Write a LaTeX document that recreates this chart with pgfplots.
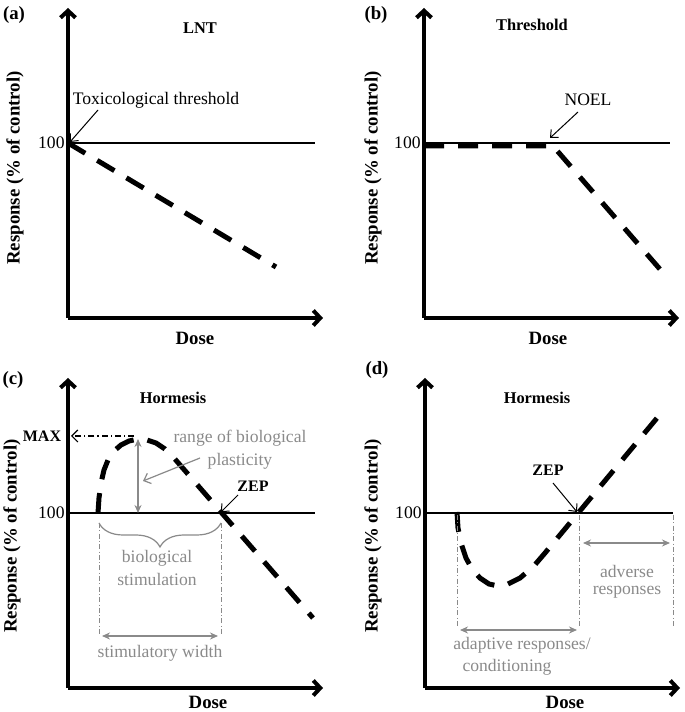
\documentclass[border=0pt]{standalone}
\usepackage{fontspec}
\setmainfont{Liberation Serif}
\usepackage{pgfplots}
\pgfplotsset{compat=1.18}
\usetikzlibrary{arrows.meta,decorations.pathreplacing}
\definecolor{anngray}{RGB}{138,138,138}
\newcommand\fLab{\bfseries\fontsize{9.4}{11}\selectfont}
\newcommand\fTit{\bfseries\fontsize{8.2}{10}\selectfont}
\newcommand\fAnn{\fontsize{8.8}{10.2}\selectfont}
\newcommand\fKey{\bfseries\fontsize{8}{9.5}\selectfont}
\tikzset{
  thinarrow/.style={black, line width=0.5pt, -{Straight Barb[length=3pt,width=5.5pt]}},
  grayarrow/.style={anngray, line width=0.6pt, {Stealth[length=4pt,width=3.5pt]}-{Stealth[length=4pt,width=3.5pt]}},
  grayonearrow/.style={anngray, line width=0.6pt, -{Straight Barb[length=3pt,width=5.5pt]}},
  graydd/.style={anngray, line width=0.4pt, dash pattern=on 2.5pt off 1.2pt on 0.4pt off 1.2pt},
  curve/.style={black, line width=2.5pt, dash pattern=on 10pt off 7pt},
  base/.style={black, line width=0.8pt},
}
\pgfplotsset{
  panel/.style={
    scale only axis, width=127.5pt, height=155pt,
    xmin=0, xmax=255, ymin=0, ymax=310,
    axis lines=left,
    axis line style={line width=2pt, -{Straight Barb[length=3.5pt,width=7.5pt]}},
    xtick=\empty, ytick={175}, yticklabels={100},
    major tick length=0pt,
    yticklabel style={font=\fAnn, inner sep=1.5pt},
    clip=false,
    ylabel={Response (\% of control)},
    xlabel={Dose},
    label style={font=\fLab},
    anchor=south west,
  }
}
\begin{document}
\begin{tikzpicture}
\useasboundingbox (0,0) rectangle (342.5pt,356pt);
% (a) LNT
\begin{axis}[panel, at={(34pt,197pt)},
  ylabel style={at={(axis description cs:-0.208,0.484)}, anchor=center},
  xlabel style={at={(axis description cs:0.498,-0.065)}, anchor=center}]
  \addplot[base] coordinates {(0,175) (247,175)};
  \addplot[curve] coordinates {(0,175) (208,51)};
  \node[font=\fTit] at (axis cs:132,290) {LNT};
  \node[font=\fAnn] at (axis cs:88,218) {Toxicological threshold};
  \draw[thinarrow] (axis cs:30,208) -- (axis cs:2,176);
  \node[font=\fLab] at (axis cs:-54,303) {(a)};
\end{axis}
% (b) Threshold
\begin{axis}[panel, at={(212pt,197pt)},
  ylabel style={at={(axis description cs:-0.2,0.484)}, anchor=center},
  xlabel style={at={(axis description cs:0.486,-0.065)}, anchor=center}]
  \addplot[base] coordinates {(0,175) (246,175)};
  \addplot[curve] coordinates {(0,172) (129,172) (241,43)};
  \node[font=\fTit] at (axis cs:108,293) {Threshold};
  \node[font=\fAnn] at (axis cs:164,218) {NOEL};
  \draw[thinarrow] (axis cs:154,206) -- (axis cs:126,180);
  \node[font=\fLab] at (axis cs:-48,303) {(b)};
\end{axis}
% (c) Hormesis inverted U
\begin{axis}[panel, at={(34pt,12pt)},
  ylabel style={at={(axis description cs:-0.22,0.49)}, anchor=center},
  xlabel style={at={(axis description cs:0.549,-0.048)}, anchor=center}]
  \addplot[base] coordinates {(0,175) (247,175)};
  \addplot[curve] coordinates {(30,175) (31,190) (33,205) (36,218) (40,228) (46,237) (53,243) (61,247) (70,249) (79,248) (88,245) (97,239) (106,230) (245,70)};
  \node[font=\fTit] at (axis cs:105,290) {Hormesis};
  \node[font=\fLab] at (axis cs:-55,308) {(c)};
  \node[font=\fKey] at (axis cs:-26,252) {MAX};
  \draw[black, line width=0.6pt, dash pattern=on 3pt off 1.5pt on 0.6pt off 1.5pt, -{Straight Barb[length=3pt,width=6pt]}] (axis cs:66,252) -- (axis cs:3,252);
  \draw[grayarrow] (axis cs:70,249) -- (axis cs:70,175);
  \node[font=\fAnn, text=anngray] at (axis cs:172,250) {range of biological};
  \node[font=\fAnn, text=anngray] at (axis cs:172,227) {plasticity};
  \draw[grayonearrow] (axis cs:132,230) -- (axis cs:75,207);
  \node[font=\fKey] at (axis cs:185,202) {ZEP};
  \draw[thinarrow] (axis cs:170,193) -- (axis cs:153,176);
  \draw[anngray, line width=0.6pt, decorate, decoration={brace, mirror, amplitude=12pt}] (axis cs:31,165) -- (axis cs:153,165);
  \draw[graydd] (axis cs:31,165) -- (axis cs:31,53);
  \draw[graydd] (axis cs:153,165) -- (axis cs:153,53);
  \node[font=\fAnn, text=anngray] at (axis cs:89,130) {biological};
  \node[font=\fAnn, text=anngray] at (axis cs:89,109) {stimulation};
  \draw[grayarrow] (axis cs:34,52) -- (axis cs:150,52);
  \node[font=\fAnn, text=anngray] at (axis cs:92,35) {stimulatory width};
\end{axis}
% (d) Hormesis U
\begin{axis}[panel, at={(212.5pt,12pt)},
  ylabel style={at={(axis description cs:-0.204,0.49)}, anchor=center},
  xlabel style={at={(axis description cs:0.549,-0.048)}, anchor=center}]
  \addplot[base] coordinates {(0,175) (248,175)};
  \addplot[curve] coordinates {(32,176) (33,160) (36,145) (41,130) (47,119) (55,110) (64,104) (73,102) (83,104) (95,110) (108,121) (120,135) (237,276)};
  \node[font=\fTit] at (axis cs:112,290) {Hormesis};
  \node[font=\fLab] at (axis cs:-48,318) {(d)};
  \node[font=\fKey] at (axis cs:123,218) {ZEP};
  \draw[thinarrow] (axis cs:128,205) -- (axis cs:152,176);
  \draw[graydd] (axis cs:32,173) -- (axis cs:32,61);
  \draw[graydd] (axis cs:154,173) -- (axis cs:154,61);
  \draw[graydd] (axis cs:248,173) -- (axis cs:248,61);
  \draw[grayarrow] (axis cs:35,58) -- (axis cs:152,58);
  \node[font=\fAnn, text=anngray] at (axis cs:97,43) {adaptive responses/};
  \node[font=\fAnn, text=anngray] at (axis cs:82,21) {conditioning};
  \draw[grayarrow] (axis cs:158,145) -- (axis cs:245,145);
  \node[font=\fAnn, text=anngray] at (axis cs:202,117) {adverse};
  \node[font=\fAnn, text=anngray] at (axis cs:202,96) {responses};
\end{axis}
\end{tikzpicture}
\end{document}
